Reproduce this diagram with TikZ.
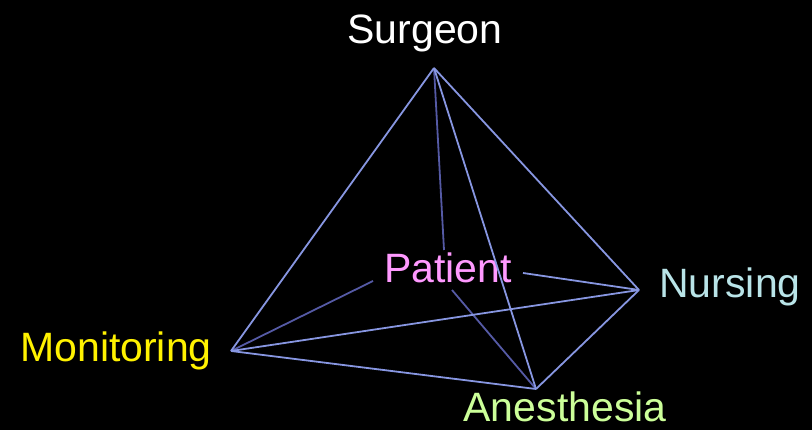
\documentclass[tikz,border=0pt]{standalone}
\usepackage{fontspec}
\setmainfont{Liberation Sans}
\definecolor{edgeblue}{RGB}{135,150,225}
\definecolor{backblue}{RGB}{85,90,165}
\definecolor{nursecol}{RGB}{185,228,232}
\definecolor{anescol}{RGB}{204,255,153}
\definecolor{patcol}{RGB}{255,153,255}

\begin{document}
\begin{tikzpicture}[x=1pt, y=-1pt,
    edge/.style={line width=1.8pt, edgeblue},
    backedge/.style={line width=1.8pt, backblue},
    lbl/.style={anchor=base, inner sep=0pt, font=\fontsize{41}{48}\selectfont}]
  %--- Background
  \fill[black] (0,0) rectangle (812,430);
  \useasboundingbox (0,0) rectangle (812,430);
  %--- Corners
  \coordinate (S) at (434,68);
  \coordinate (M) at (231,351);
  \coordinate (N) at (639,290);
  \coordinate (A) at (536,389);
  %--- Ends near the patient
  \coordinate (pS) at (444,250);
  \coordinate (pM) at (373,281);
  \coordinate (pN) at (523,273);
  \coordinate (pA) at (452,290);
  %--- Labels
  \node[lbl, white]    (surgeon)    at (425,44)  {Surgeon};
  \node[lbl, yellow]   (monitoring) at (116,362) {Monitoring};
  \node[lbl, nursecol] (nursing)    at (730,298) {Nursing};
  \node[lbl, anescol]  (anesthesia) at (565,422) {Anesthesia};
  \node[lbl, patcol]   (patient)    at (448,283) {Patient};
  %--- Edges to the patient
  \draw[backedge] (S) -- (pS);
  \draw[backedge] (M) -- (pM);
  \draw[edge]     (N) -- (pN);
  \draw[backedge] (A) -- (pA);
  %--- Outer edges
  \draw[edge] (S) -- (M);
  \draw[edge] (S) -- (N);
  \draw[edge] (S) -- (A);
  \draw[edge] (M) -- (N);
  \draw[edge] (M) -- (A);
  \draw[edge] (N) -- (A);
\end{tikzpicture}
\end{document}
